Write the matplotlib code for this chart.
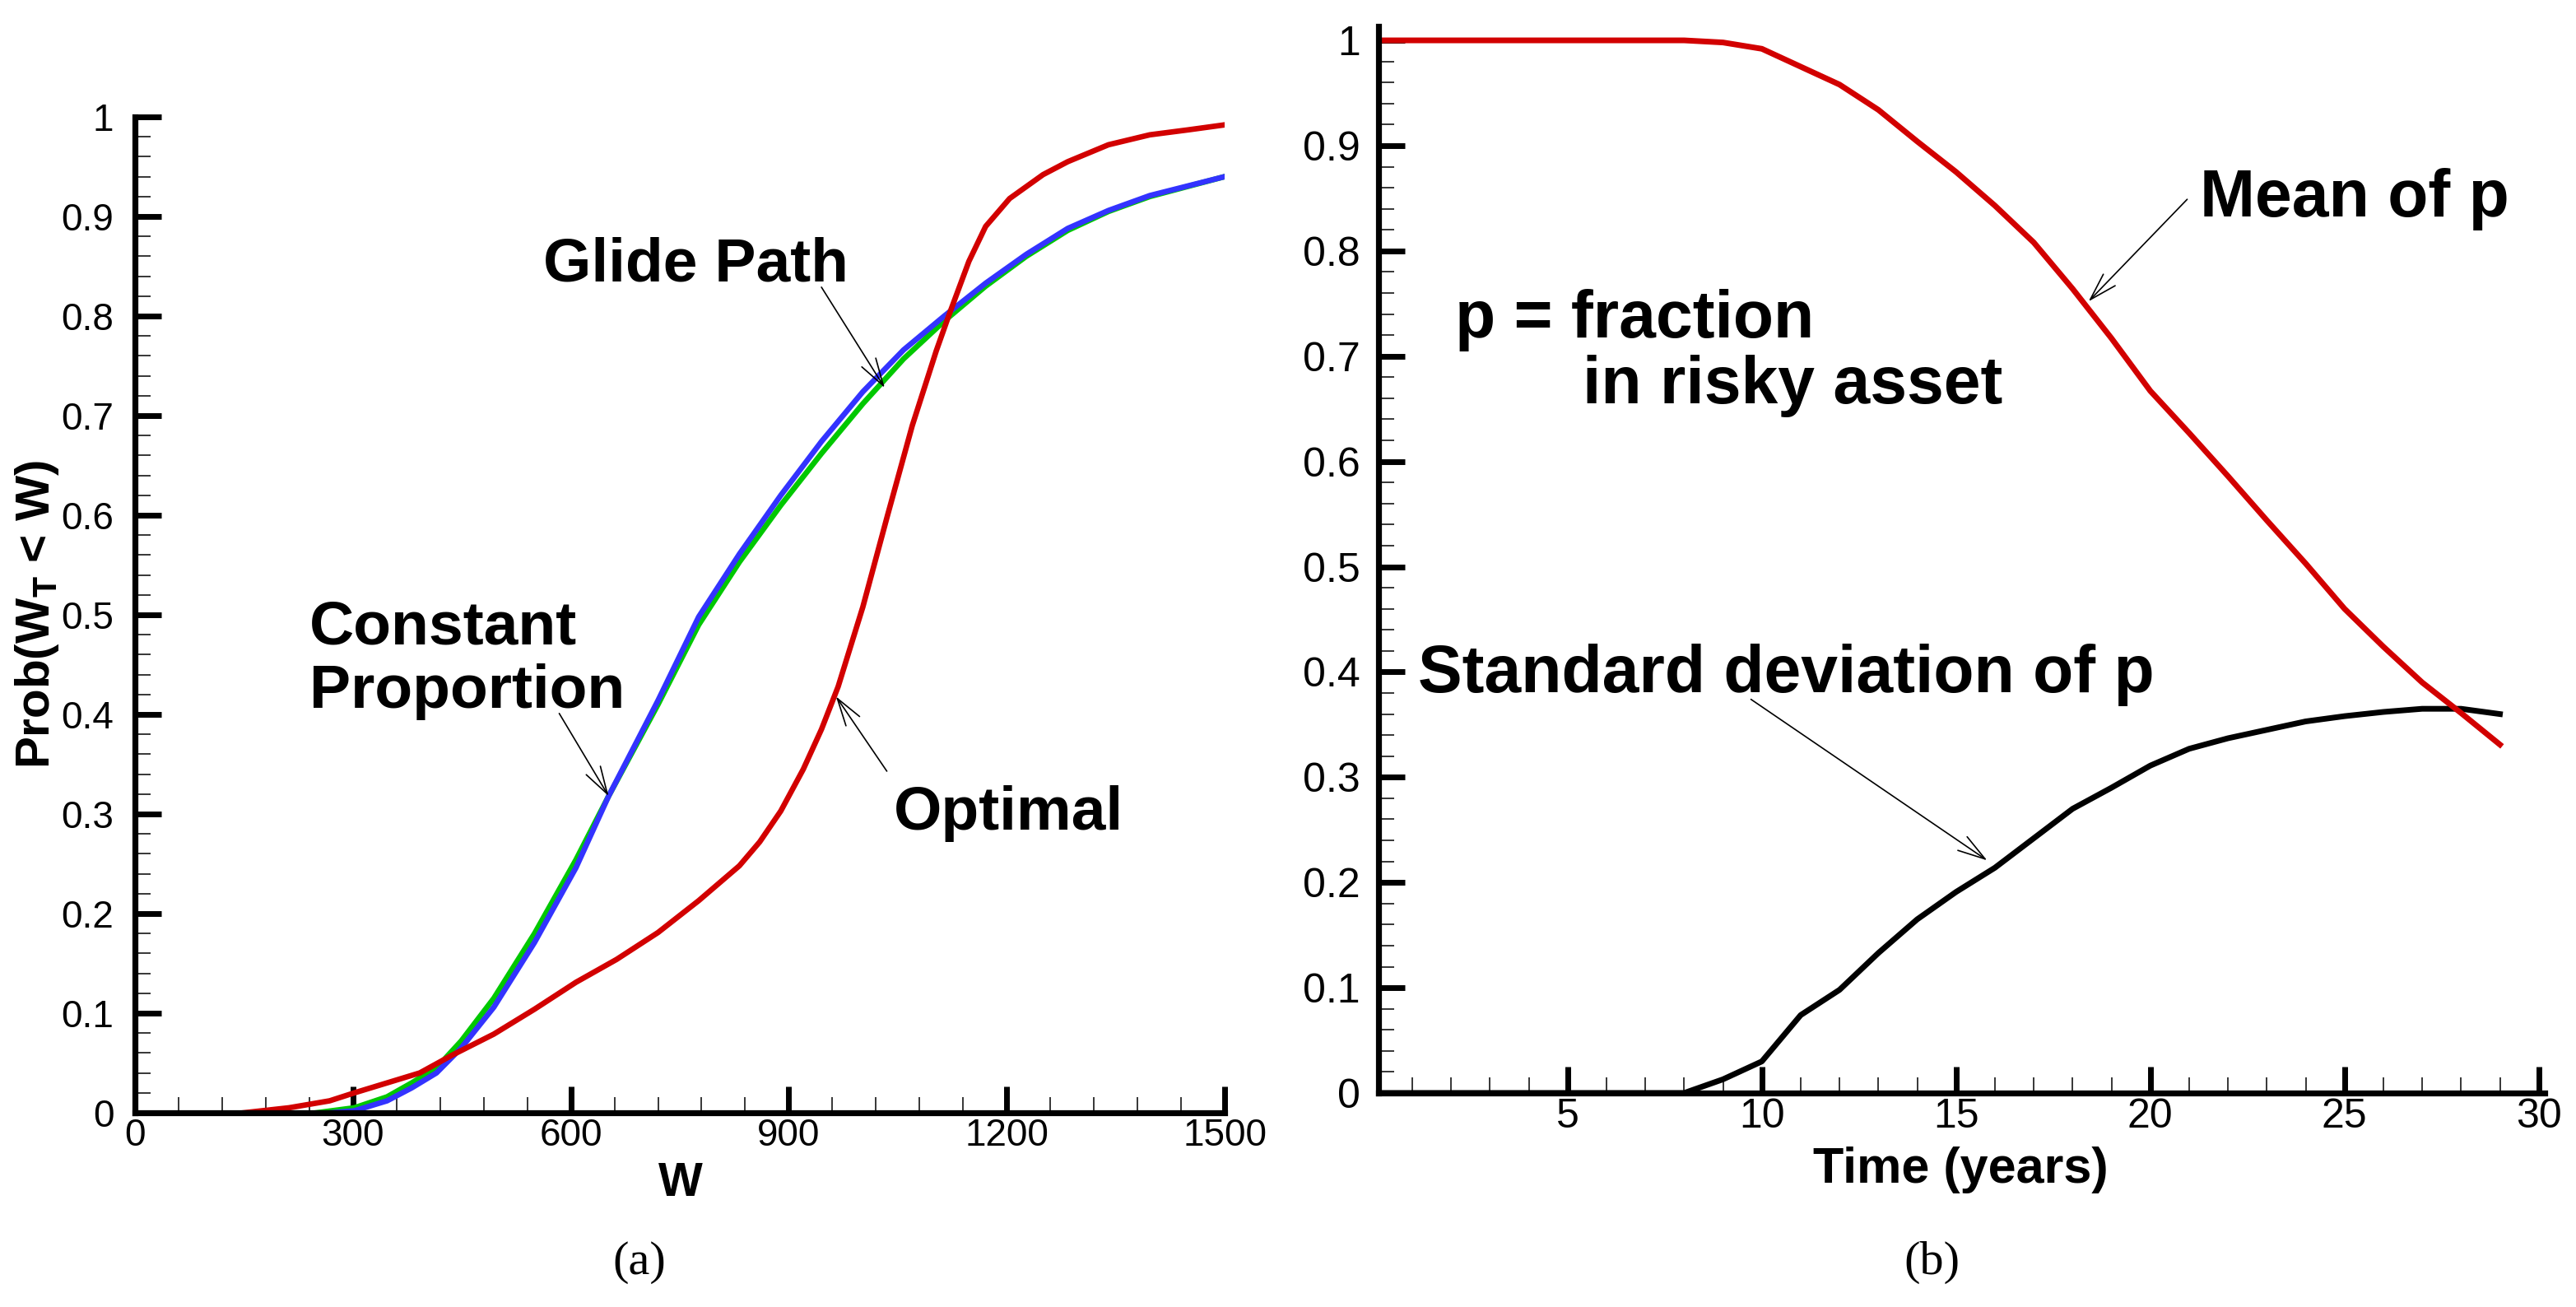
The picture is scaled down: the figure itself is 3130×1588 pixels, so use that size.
import numpy as np
import matplotlib
matplotlib.use("Agg")
import matplotlib.pyplot as plt
from matplotlib.ticker import MultipleLocator

plt.rcParams['font.family'] = ['Liberation Sans', 'DejaVu Sans']
plt.rcParams['mathtext.fontset'] = 'custom'
plt.rcParams['mathtext.rm'] = 'Liberation Sans:bold'
plt.rcParams['mathtext.bf'] = 'Liberation Sans:bold'
plt.rcParams['mathtext.it'] = 'Liberation Sans:bold'

# ---- panel (a): CDF of terminal wealth ----
W_opt = [150, 212, 268, 302, 347, 392, 437, 494, 550, 607, 663, 720, 776, 832,
         860, 889, 920, 945, 968, 1002, 1036, 1070, 1103, 1120, 1148, 1171,
         1204, 1250, 1284, 1340, 1397, 1450, 1500]
P_opt = [0, .005, .012, .02, .03, .04, .058, .079, .104, .131, .154, .181, .213,
         .248, .272, .303, .345, .385, .428, .508, .60, .69, .765, .80, .855,
         .89, .918, .942, .955, .972, .982, .987, .992]

W_gp = [270, 302, 347, 381, 415, 449, 494, 550, 607, 652, 720, 776, 832, 889,
        945, 1002, 1058, 1114, 1171, 1227, 1284, 1340, 1397, 1500]
P_gp = [0, .002, .012, .025, .04, .065, .106, .171, .246, .318, .414, .498,
        .561, .62, .674, .724, .766, .80, .833, .862, .888, .906, .921, .94]

W_cp = [250, 302, 347, 381, 415, 449, 494, 550, 607, 652, 720, 776, 832, 889,
        945, 1002, 1058, 1114, 1171, 1227, 1284, 1340, 1397, 1500]
P_cp = [0, .005, .016, .03, .045, .072, .115, .18, .254, .318, .41, .49, .553,
        .61, .662, .712, .757, .795, .83, .86, .886, .905, .92, .94]

# ---- panel (b): fraction in risky asset over time ----
years = list(range(30))
mean_p = [1.0] * 9 + [.998, .992, .975, .958, .934, .904, .875, .843, .808, .764,
                      .717, .667, .627, .586, .544, .503, .46, .424, .39, .361, .331]
std_p = [0.0] * 9 + [.013, .030, .074, .098, .133, .165, .191, .214, .242, .27,
                     .29, .311, .327, .337, .345, .353, .358, .362, .365, .365, .36]

RED = '#d20000'
GREEN = '#00c800'
BLUE = '#3333ff'

fig = plt.figure(figsize=(31.3, 15.88), dpi=100)
axa = fig.add_axes([0.0524, 0.14861, 0.4230, 0.76196])
axb = fig.add_axes([0.5351, 0.16373, 0.4527, 0.8161])


def style_axis(ax, fs, ypad, xpad):
    for s in ['top', 'right']:
        ax.spines[s].set_visible(False)
    for s in ['left', 'bottom']:
        ax.spines[s].set_linewidth(5.2)
    ax.tick_params(which='major', direction='in', length=23, width=5,
                   labelsize=fs)
    ax.tick_params(which='minor', direction='in', length=13.5, width=1.1)
    ax.tick_params(axis='y', which='major', pad=ypad)
    ax.tick_params(axis='x', which='major', pad=xpad)
    ax.yaxis.set_major_locator(MultipleLocator(0.1))
    ax.yaxis.set_minor_locator(MultipleLocator(0.02))
    ax.yaxis.set_major_formatter(lambda v, pos: f'{v:g}')


def arrow(ax, text_xy, tip_xy):
    ax.annotate('', xy=tip_xy, xytext=text_xy,
                arrowprops=dict(arrowstyle='->,head_length=0.6,head_width=0.18',
                                lw=1.2, color='black', mutation_scale=40,
                                shrinkA=0, shrinkB=0))


# panel (a)
axa.plot(W_cp, P_cp, color=GREEN, lw=4.8)
axa.plot(W_gp, P_gp, color=BLUE, lw=4.8)
axa.plot(W_opt, P_opt, color=RED, lw=4.8)
axa.set_xlim(0, 1500)
axa.set_ylim(0, 1)
style_axis(axa, 33, 18.5, 4)
axa.xaxis.set_major_locator(MultipleLocator(300))
axa.xaxis.set_minor_locator(MultipleLocator(60))

axa.set_xlabel('W', fontsize=41, fontweight='bold', va='baseline')
axa.xaxis.set_label_coords(0.5008, -0.0835)
axa.set_ylabel(r'Prob(W$_{\mathrm{T}}$ < W)', fontsize=42, fontweight='bold',
               va='baseline')
axa.yaxis.set_label_coords(-0.0785, 0.5)

bold54 = dict(fontsize=54, fontweight='bold', ha='left', va='baseline')
axa.text(562, 0.835, 'Glide Path', **bold54)
axa.text(240, 0.471, 'Constant', **bold54)
axa.text(240, 0.407, 'Proportion', **bold54)
axa.text(1044, 0.284, 'Optimal', **bold54)
arrow(axa, (945, 0.829), (1032, 0.728))
arrow(axa, (584, 0.401), (652, 0.318))
arrow(axa, (1035, 0.343), (965, 0.418))

# panel (b)
axb.plot(years, std_p, color='black', lw=5)
axb.plot(years, mean_p, color=RED, lw=5)
axb.set_xlim(0.13, 30.15)
axb.set_ylim(0, 1.0133)
style_axis(axb, 36, 16, 4)
axb.xaxis.set_major_locator(MultipleLocator(5))
axb.xaxis.set_minor_locator(MultipleLocator(1))

axb.set_xlabel('Time (years)', fontsize=44, fontweight='bold', va='baseline')
axb.xaxis.set_label_coords(0.499, -0.0841)

bold58 = dict(fontsize=58, fontweight='bold', ha='left', va='baseline')
axb.text(21.27, 0.833, 'Mean of p', **bold58)
axb.text(2.10, 0.718, 'p = fraction', **bold58)
axb.text(5.38, 0.655, 'in risky asset', **bold58)
axb.text(1.14, 0.381, 'Standard deviation of p', **bold58)
arrow(axb, (20.95, 0.849), (18.41, 0.752))
arrow(axb, (9.72, 0.374), (15.8, 0.221))

# sub-captions
cap = dict(fontsize=42, family=['Liberation Serif', 'DejaVu Serif'],
           ha='center', va='center')
fig.text(777 / 3130, 1 - 1534 / 1588, '(a)', **cap)
fig.text(2347 / 3130, 1 - 1534 / 1588, '(b)', **cap)

fig.savefig('out.png', dpi=100)
